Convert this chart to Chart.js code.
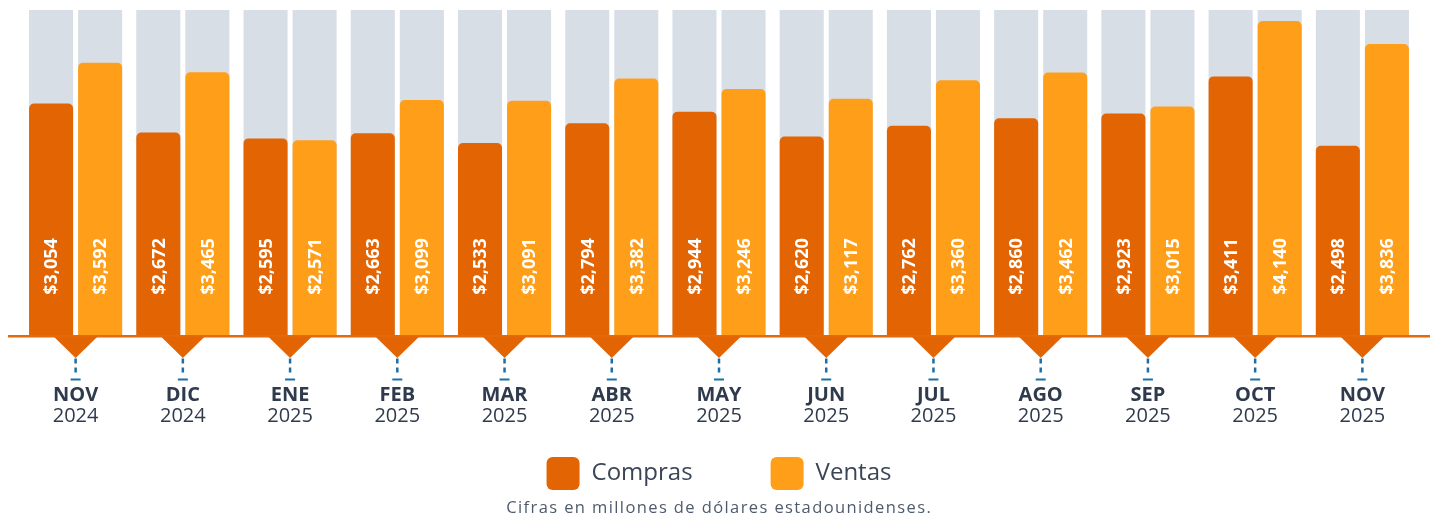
<!DOCTYPE html>
<html>
<head>
<meta charset="utf-8">
<script src="https://cdn.jsdelivr.net/npm/chart.js@4.4.1/dist/chart.umd.min.js"></script>
<style>
html,body{margin:0;padding:0;background:#ffffff;}
#wrap{width:1437px;height:516px;position:relative;}
</style>
</head>
<body>
<div id="wrap"><canvas id="c"></canvas></div>
<script>
const months = ['NOV','DIC','ENE','FEB','MAR','ABR','MAY','JUN','JUL','AGO','SEP','OCT','NOV'];
const years = ['2024','2024','2025','2025','2025','2025','2025','2025','2025','2025','2025','2025','2025'];
const compras = [3054,2672,2595,2663,2533,2794,2944,2620,2762,2860,2923,3411,2498];
const ventas = [3592,3465,2571,3099,3091,3382,3246,3117,3360,3462,3015,4140,3836];
const seriesNames = ['Compras','Ventas'];
const scaleMax = 4285;
const footnote = 'Cifras en millones de dólares estadounidenses.';

const COMPRAS = '#E36403';
const VENTAS = '#FF9E18';
const TRACK = '#D8DEE6';
const BLUE = '#1C6EA4';
const TEXT = '#2F3B4C';
const FONT = "'Open Sans', sans-serif";
const fmt = v => '$' + v.toLocaleString('en-US');
const seriesData = [compras, ventas];

const decor = {
  id: 'decor',
  beforeDatasetsDraw(chart) {
    const {ctx, chartArea: a} = chart;
    ctx.save();
    ctx.fillStyle = TRACK;
    [0, 1].forEach(di => {
      chart.getDatasetMeta(di).data.forEach(bar => {
        const p = bar.getProps(['x', 'width'], true);
        ctx.fillRect(p.x - p.width / 2, a.top, p.width, a.bottom - a.top);
      });
    });
    ctx.restore();
  },
  afterDatasetsDraw(chart) {
    const {ctx, chartArea: a, scales: {x}} = chart;
    ctx.save();
    // value labels
    [0, 1].forEach(di => {
      chart.getDatasetMeta(di).data.forEach((bar, i) => {
        const p = bar.getProps(['x'], true);
        ctx.save();
        ctx.translate(p.x + 6.3, a.bottom - 69);
        ctx.rotate(-Math.PI / 2);
        ctx.fillStyle = '#FFFFFF';
        ctx.font = "700 18px " + FONT;
        ctx.textAlign = 'center';
        ctx.textBaseline = 'alphabetic';
        ctx.fillText(fmt(seriesData[di][i]), 0, 0);
        ctx.restore();
      });
    });
    // baseline
    ctx.fillStyle = '#E46A0E';
    ctx.fillRect(a.left - 14, a.bottom - 0.5, a.right - a.left + 28, 2.5);
    months.forEach((m, i) => {
      const cx = x.getPixelForValue(i);
      ctx.fillStyle = COMPRAS;
      ctx.beginPath();
      ctx.moveTo(cx - 22, a.bottom + 1);
      ctx.lineTo(cx + 22, a.bottom + 1);
      ctx.lineTo(cx, a.bottom + 22.5);
      ctx.closePath();
      ctx.fill();
      ctx.strokeStyle = BLUE;
      ctx.lineWidth = 2.5;
      ctx.setLineDash([5, 4]);
      ctx.beginPath();
      ctx.moveTo(cx, a.bottom + 23);
      ctx.lineTo(cx, a.bottom + 37);
      ctx.stroke();
      ctx.setLineDash([]);
      ctx.fillStyle = BLUE;
      ctx.fillRect(cx - 5, a.bottom + 43, 10, 2);
      ctx.fillStyle = TEXT;
      ctx.textAlign = 'center';
      ctx.textBaseline = 'alphabetic';
      ctx.font = "700 20px " + FONT;
      ctx.fillText(m, cx, a.bottom + 65);
      ctx.font = "400 20px " + FONT;
      ctx.fillText(years[i], cx, a.bottom + 86);
    });
    ctx.restore();
  },
  afterDraw(chart) {
    const {ctx, width, height} = chart;
    ctx.save();
    ctx.fillStyle = '#4E5B6E';
    ctx.font = "400 16.5px " + FONT;
    if ('letterSpacing' in ctx) ctx.letterSpacing = '1.4px';
    ctx.textAlign = 'center';
    ctx.textBaseline = 'alphabetic';
    ctx.fillText(footnote, width / 2 + 0.7, height - 3);
    ctx.restore();
  }
};

new Chart(document.getElementById('c'), {
  type: 'bar',
  data: {
    labels: months.map((m, i) => m + ' ' + years[i]),
    datasets: [
      {label: seriesNames[0], data: compras, backgroundColor: COMPRAS, borderWidth: 0, borderRadius: 5,
       categoryPercentage: 0.915, barPercentage: 0.898},
      {label: seriesNames[1], data: ventas, backgroundColor: VENTAS, borderWidth: 0, borderRadius: 5,
       categoryPercentage: 0.915, barPercentage: 0.898}
    ]
  },
  options: {
    responsive: true,
    maintainAspectRatio: false,
    animation: false,
    layout: {padding: {top: 10, left: 22, right: 21, bottom: 16}},
    scales: {
      x: {
        display: true,
        grid: {display: false, drawTicks: false},
        border: {display: false},
        ticks: {display: false},
        title: {display: true, text: '', padding: 0, font: {size: 43.5, lineHeight: 1}}
      },
      y: {display: false, min: 0, max: scaleMax}
    },
    plugins: {
      legend: {
        position: 'bottom',
        labels: {
          boxWidth: 33, boxHeight: 33, useBorderRadius: true, borderRadius: 6,
          padding: 78, color: '#3A4556', font: {family: FONT, size: 24}
        }
      },
      tooltip: {enabled: false}
    }
  },
  plugins: [decor]
});
</script>
</body>
</html>
